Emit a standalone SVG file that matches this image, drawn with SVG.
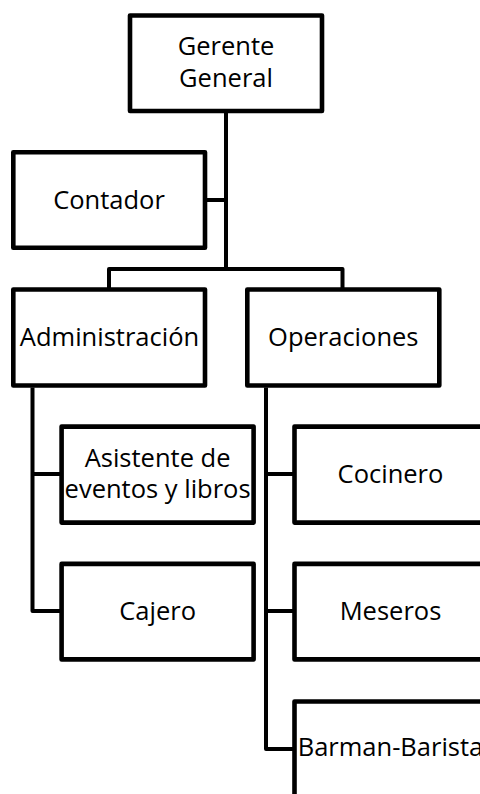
<svg xmlns="http://www.w3.org/2000/svg" width="480" height="794" viewBox="0 0 480 794">
<style>
.box{fill:#fff;stroke:#000;stroke-width:4.6;stroke-linejoin:round}
.lbl{font-family:"Open Sans","Liberation Sans",sans-serif;font-size:25.5px;fill:#000;text-anchor:middle}
.conn{fill:none;stroke:#000;stroke-width:4;stroke-linejoin:round;stroke-linecap:butt}
</style>
<rect width="480" height="794" fill="#fff"/>
<g id="connectors">
<path class="conn" d="M226 111 V269"/>
<path class="conn" d="M109 289.5 V269 H342.5 V289.5"/>
<path class="conn" d="M205 200 H226"/>
<path class="conn" d="M32.5 387.5 V611 H61.5"/>
<path class="conn" d="M32.5 474 H61.5"/>
<path class="conn" d="M266 387.5 V749 H294.5"/>
<path class="conn" d="M266 474 H294.5"/>
<path class="conn" d="M266 611 H294.5"/>
</g>
<g id="gerente">
<rect class="box" x="130" y="15.5" width="192" height="95.5"/>
<text class="lbl" x="226" y="55">Gerente</text>
<text class="lbl" x="226" y="87">General</text>
</g>
<g id="contador">
<rect class="box" x="13.3" y="152.3" width="191.7" height="95.5"/>
<text class="lbl" x="109" y="208.5">Contador</text>
</g>
<g id="administracion">
<rect class="box" x="13.3" y="289.5" width="191.7" height="96"/>
<text class="lbl" x="109.5" y="346">Administración</text>
</g>
<g id="operaciones">
<rect class="box" x="247.3" y="289.5" width="192" height="96"/>
<text class="lbl" x="343.3" y="346">Operaciones</text>
</g>
<g id="asistente">
<rect class="box" x="61.6" y="426.6" width="192" height="96"/>
<text class="lbl" x="157.6" y="467">Asistente de</text>
<text class="lbl" x="157.6" y="498">eventos y libros</text>
</g>
<g id="cajero">
<rect class="box" x="61.6" y="563.9" width="192" height="95.5"/>
<text class="lbl" x="157.6" y="620">Cajero</text>
</g>
<g id="cocinero">
<rect class="box" x="294.5" y="426.6" width="192" height="96"/>
<text class="lbl" x="390.5" y="483">Cocinero</text>
</g>
<g id="meseros">
<rect class="box" x="294.5" y="563.9" width="192" height="95.5"/>
<text class="lbl" x="390.5" y="620">Meseros</text>
</g>
<g id="barman">
<rect class="box" x="294.5" y="701.5" width="192" height="96"/>
<text class="lbl" x="390.5" y="756">Barman-Barista</text>
</g>
</svg>
